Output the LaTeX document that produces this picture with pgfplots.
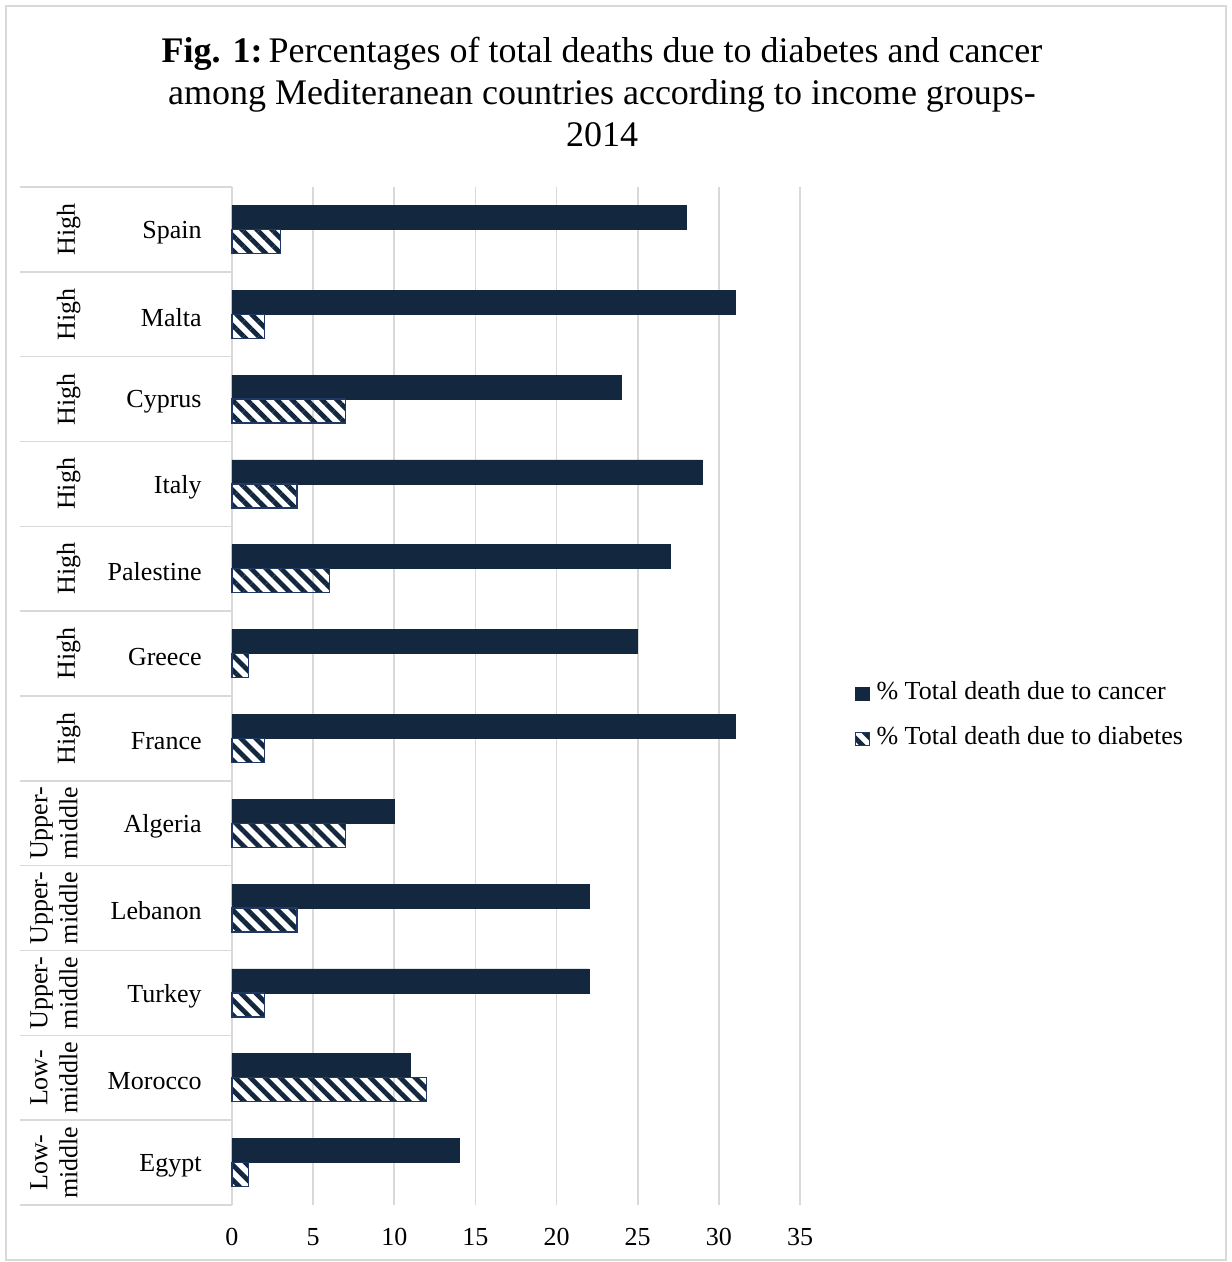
\documentclass[border=0pt]{standalone}
\usepackage{fontspec}
\setmainfont{Liberation Serif}
\usepackage{pgfplots}
\pgfplotsset{compat=1.18}
\usetikzlibrary{patterns.meta}
\definecolor{navy}{HTML}{13273F}
\definecolor{navyedge}{HTML}{1F3864}
\definecolor{gridc}{HTML}{D9D9D9}
\begin{document}
\begin{tikzpicture}
\path (0,0) rectangle (615.5pt,631pt);
\draw[gridc, line width=0.6pt] (3pt,1pt) rectangle (613pt,628pt);
\node[align=center, font=\fontsize{18}{21}\selectfont] at (301pt,585pt)
  {\textbf{Fig. 1:}\,Percentages of total deaths due to diabetes and cancer\\
   among Mediteranean countries according to income groups-\\2014};
\begin{axis}[
  at={(116pt,28.5pt)}, anchor=south west,
  scale only axis, width=284pt, height=509pt,
  xbar=0pt, bar width=12pt,
  xmin=0, xmax=35, xtick={0,5,...,35},
  ymin=-0.5, ymax=11.5, y dir=reverse,
  ytick={0,...,11},
  yticklabels={Spain,Malta,Cyprus,Italy,Palestine,Greece,France,Algeria,Lebanon,Turkey,Morocco,Egypt},
  axis x line*=bottom, axis y line*=left,
  x axis line style={draw=none},
  y axis line style={gridc, line width=0.8pt},
  major tick length=0pt,
  xmajorgrids, major grid style={gridc, line width=0.8pt},
  /pgf/number format/assume math mode=true,
  tick label style={font=\fontsize{13}{15}\selectfont},
  xticklabel style={anchor=north, inner sep=0pt, yshift=-11.6pt},
  yticklabel style={anchor=east, inner sep=0pt, xshift=-15pt, yshift=-1.5pt},
  clip=false,
  legend style={at={(1.0968,0.4800)}, anchor=west, draw=none, fill=none,
    font=\fontsize{13}{15}\selectfont, inner sep=0pt, row sep=10.5pt,
    nodes={text height=9pt, text depth=3pt, inner sep=0pt}},
  legend cell align=left,
  legend image code/.code={\draw[#1, line width=0.5pt] (0pt,-3.3pt) rectangle (6.6pt,3.3pt);},
]
\addplot[fill=navy, draw=navy, bar shift=6pt] coordinates {
(28,0) (31,1) (24,2) (29,3) (27,4) (25,5) (31,6) (10,7) (22,8) (22,9) (11,10) (14,11)};
\addlegendentry{\hspace{3.5pt}\% Total death due to cancer}
\addplot[draw=navyedge, line width=0.6pt, bar shift=-6pt, pattern={Lines[angle=-45, distance=5.3pt, line width=2.4pt]}, pattern color=navy] coordinates {
(3,0) (2,1) (7,2) (4,3) (6,4) (1,5) (2,6) (7,7) (4,8) (2,9) (12,10) (1,11)};
\addlegendentry{\hspace{3.5pt}\% Total death due to diabetes}
\pgfplotsinvokeforeach{0,...,12}{
  \draw[gridc, line width=0.8pt] ([xshift=-106pt]axis cs:0,#1-0.5) -- (axis cs:0,#1-0.5);
}
\pgfplotsinvokeforeach{0,...,6}{
  \node[rotate=90, anchor=south, inner sep=0pt, font=\fontsize{13}{15}\selectfont] at ([xshift=-75.5pt]axis cs:0,#1) {High};
}
\pgfplotsinvokeforeach{7,8,9}{
  \node[rotate=90, anchor=south, inner sep=0pt, align=center, font=\fontsize{13}{15}\selectfont] at ([xshift=-77pt]axis cs:0,#1) {Upper-\\middle};
}
\pgfplotsinvokeforeach{10,11}{
  \node[rotate=90, anchor=south, inner sep=0pt, align=center, font=\fontsize{13}{15}\selectfont] at ([xshift=-77pt]axis cs:0,#1) {Low-\\middle};
}
\end{axis}
\end{tikzpicture}
\end{document}
